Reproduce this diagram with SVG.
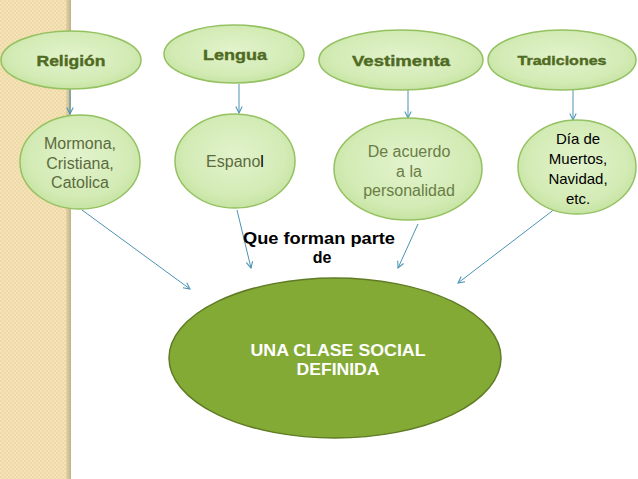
<svg xmlns="http://www.w3.org/2000/svg" width="638" height="479" viewBox="0 0 638 479">
<defs>
<pattern id="chk" width="4" height="4" patternUnits="userSpaceOnUse">
<rect width="4" height="4" fill="#f4e2b8"/>
<rect width="2" height="2" fill="#efd9a6"/>
<rect x="2" y="2" width="2" height="2" fill="#efd9a6"/>
</pattern>
<linearGradient id="edge" x1="0" y1="0" x2="1" y2="0">
<stop offset="0" stop-color="#e6d3a2"/>
<stop offset="1" stop-color="#bdb18c"/>
</linearGradient>
<radialGradient id="lg" cx="0.5" cy="0.45" r="0.6">
<stop offset="0" stop-color="#e2f3cc"/>
<stop offset="0.7" stop-color="#d3ebb5"/>
<stop offset="1" stop-color="#c2e19c"/>
</radialGradient>
<marker id="ah" viewBox="0 0 10 10" refX="9" refY="5" markerWidth="8" markerHeight="8" markerUnits="userSpaceOnUse" orient="auto">
<path d="M1,1 L9,5 L1,9" fill="none" stroke="#4b93b3" stroke-width="1.3"/>
</marker>
<style>
.n{fill:url(#lg);stroke:#94c161;stroke-width:1.5}
.h{font-family:"Liberation Sans",Arial,sans-serif;font-weight:bold;font-size:15px;fill:#4f6a22;text-anchor:middle;stroke:#4f6a22;stroke-width:0.4}
.t{font-family:"Liberation Sans",Arial,sans-serif;font-size:16px;text-anchor:middle}
.c line{stroke:#4b93b3;stroke-width:1;marker-end:url(#ah)}
.b{font-family:"Liberation Sans",Arial,sans-serif;font-weight:bold;font-size:16px;text-anchor:middle}
</style>
</defs>
<rect width="638" height="479" fill="#ffffff"/>
<rect x="0" y="0" width="68" height="479" fill="url(#chk)"/>
<rect x="66" y="0" width="5" height="479" fill="url(#edge)"/>
<g class="c" id="connectors">
<line x1="70" y1="87" x2="70" y2="114"/>
<line x1="239" y1="84" x2="239" y2="113"/>
<line x1="408" y1="90" x2="408" y2="118"/>
<line x1="573" y1="90" x2="573" y2="120"/>
<line x1="82" y1="210" x2="190" y2="289"/>
<line x1="237" y1="210" x2="251" y2="268"/>
<line x1="418" y1="224" x2="398" y2="268"/>
<line x1="560" y1="205" x2="458" y2="283"/>
</g>
<g id="religion"><ellipse class="n" cx="71" cy="60" rx="70" ry="29"/><text class="h" x="71" y="66" textLength="69" lengthAdjust="spacingAndGlyphs">Religión</text></g>
<g id="lengua"><ellipse class="n" cx="234" cy="54" rx="70" ry="29"/><text class="h" x="235" y="60" textLength="64" lengthAdjust="spacingAndGlyphs">Lengua</text></g>
<g id="vestimenta"><ellipse class="n" cx="401" cy="60" rx="82" ry="30"/><text class="h" x="401" y="66" textLength="98" lengthAdjust="spacingAndGlyphs">Vestimenta</text></g>
<g id="tradiciones"><ellipse class="n" cx="562" cy="60" rx="74" ry="30"/><text class="h" x="562" y="65" style="font-size:13px" textLength="89" lengthAdjust="spacingAndGlyphs">Tradiciones</text></g>
<g id="mormona"><ellipse class="n" cx="80" cy="162" rx="60" ry="47"/>
<text class="t" fill="#5b6b3e"><tspan x="80" y="149">Mormona,</tspan><tspan x="80" y="169">Cristiana,</tspan><tspan x="80" y="188">Catolica</tspan></text></g>
<g id="espanol"><ellipse class="n" cx="235" cy="161" rx="60" ry="47"/>
<text class="t" fill="#5b6b3e" x="235" y="167">Espano<tspan fill="#000000">l</tspan></text></g>
<g id="acuerdo"><ellipse class="n" cx="408" cy="169" rx="74" ry="51"/>
<text class="t" fill="#6a7d46"><tspan x="409" y="157">De acuerdo</tspan><tspan x="409" y="177">a la</tspan><tspan x="409" y="196">personalidad</tspan></text></g>
<g id="dia"><ellipse class="n" cx="577" cy="167" rx="59" ry="47"/>
<text class="t" fill="#000000" style="font-size:15px"><tspan x="578" y="144">Día de</tspan><tspan x="578" y="164">Muertos,</tspan><tspan x="578" y="184">Navidad,</tspan><tspan x="578" y="204">etc.</tspan></text></g>
<g id="label"><text class="b" fill="#000000"><tspan x="319" y="244" textLength="152" lengthAdjust="spacingAndGlyphs">Que forman parte</tspan><tspan x="322" y="263">de</tspan></text></g>
<g id="clase"><ellipse cx="335" cy="358" rx="166" ry="80" fill="#84aa36" stroke="#5f7b25" stroke-width="1.5"/>
<text class="b" fill="#ffffff"><tspan x="338" y="356" textLength="175" lengthAdjust="spacingAndGlyphs">UNA CLASE SOCIAL</tspan><tspan x="338" y="375" textLength="83" lengthAdjust="spacingAndGlyphs">DEFINIDA</tspan></text></g>
</svg>
